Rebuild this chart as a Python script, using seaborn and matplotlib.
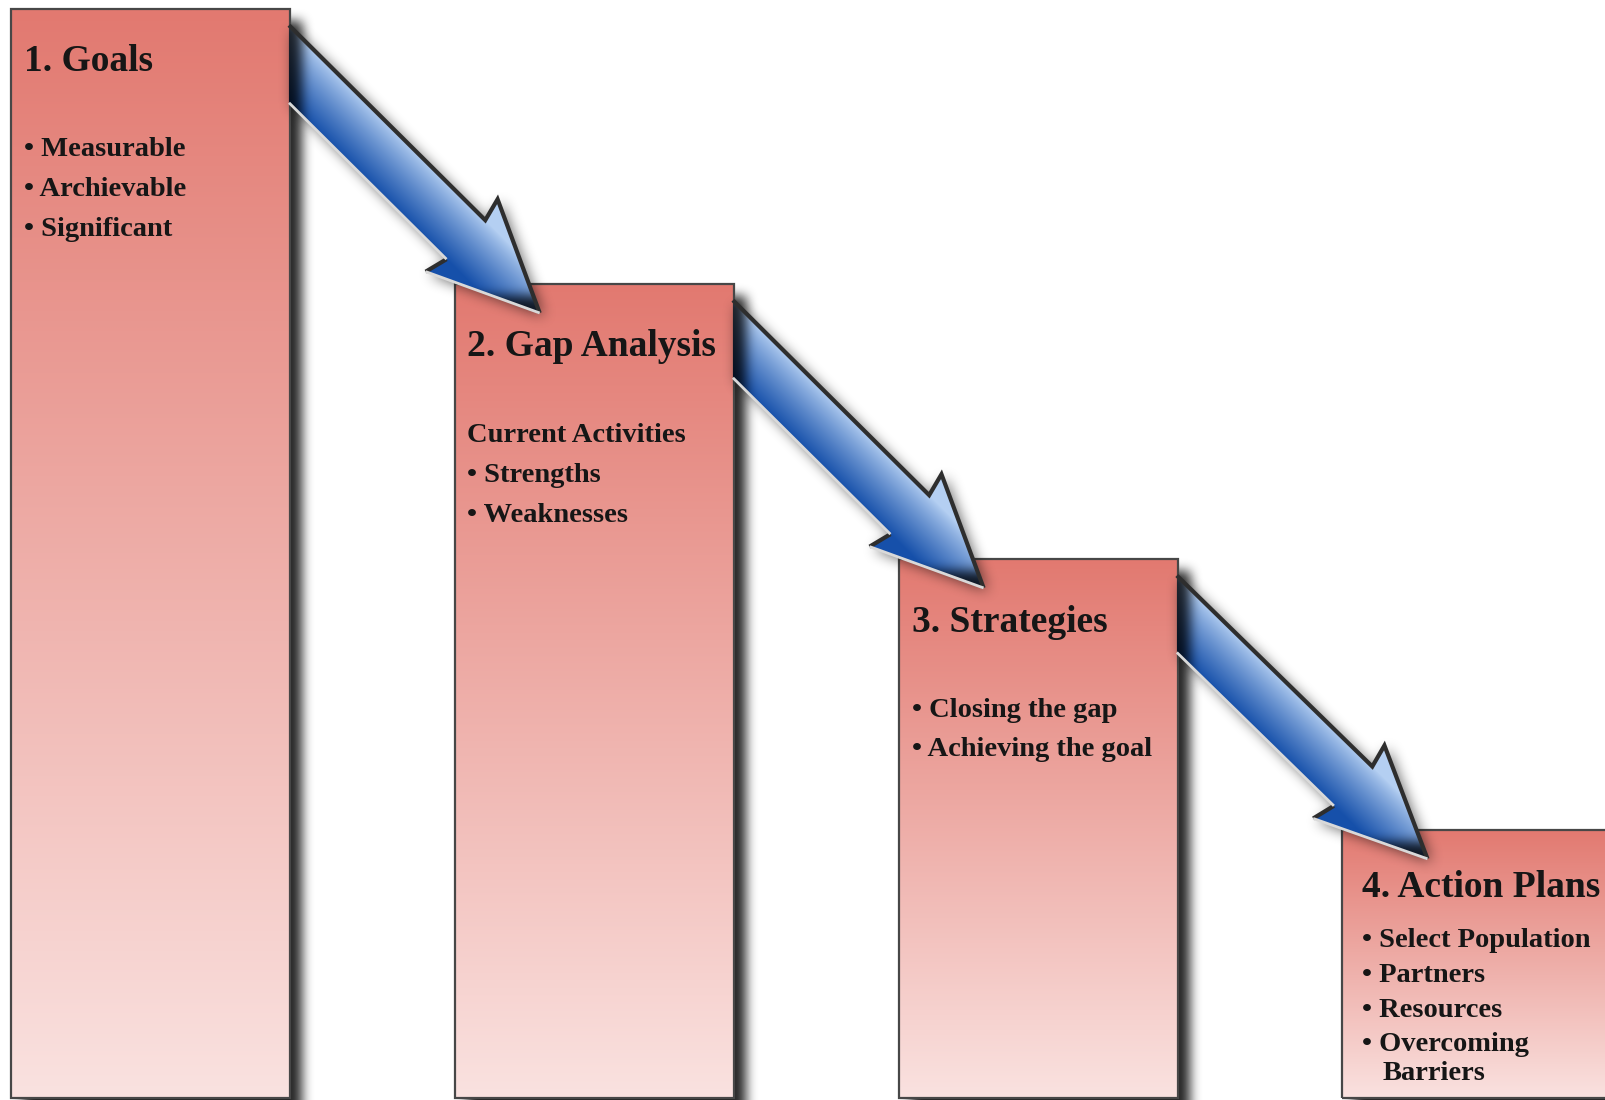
import numpy as np
import matplotlib
matplotlib.use("Agg")
import matplotlib.pyplot as plt
import seaborn as sns
from matplotlib.path import Path

# ---------------- data ----------------
steps = ["1. Goals", "2. Gap Analysis", "3. Strategies", "4. Action Plans"]
levels = [4.0, 2.99, 1.98, 0.985]
details_goals = ["• Measurable", "• Archievable", "• Significant"]
details_gap = ["Current Activities", "• Strengths", "• Weaknesses"]
details_strategies = ["• Closing the gap", "• Achieving the goal"]
details_action = ["• Select Population", "• Partners", "• Resources", "• Overcoming", "Barriers"]
details = [details_goals, details_gap, details_strategies, details_action]

# ---------------- layout ----------------
W, H, DPI = 1606, 1100, 100
X0, XU = 150.4, 443.9
Y0, YU = 2.0, 272.25
BAR_W = 0.629
TEXT_DX = [13.5, 12.5, 13.0, 20.0]
TITLE_DY = [62, 72, 73, 67]
DETAIL_DY = [[147, 187, 227], [158, 198, 238], [158, 197], [117, 152, 187, 221, 250]]
DETAIL_INDENT = [[0, 0, 0], [0, 0, 0], [0, 0], [0, 0, 0, 0, 20]]
TITLE_FS, DETAIL_FS = 27, 20.5
TEXT_COLOR = "#161616"


def blur(a, r, passes=3):
    for _ in range(passes):
        c = np.cumsum(np.pad(a, ((0, 0), (r + 1, r)), mode="edge"), axis=1)
        a = (c[:, 2 * r + 1:] - c[:, :-2 * r - 1]) / (2 * r + 1)
        c = np.cumsum(np.pad(a, ((r + 1, r), (0, 0)), mode="edge"), axis=0)
        a = (c[2 * r + 1:, :] - c[:-2 * r - 1, :]) / (2 * r + 1)
    return a


sns.set_style("white")
plt.rcParams["font.family"] = ["Liberation Serif", "DejaVu Serif"]

fig = plt.figure(figsize=(W / DPI, H / DPI), dpi=DPI)
fig.patch.set_facecolor("white")
ax = fig.add_axes([0, 0, 1, 1])
sns.barplot(x=steps, y=levels, order=steps, ax=ax, width=BAR_W,
            color="#e9a29b", saturation=1, edgecolor="#474747", linewidth=1.6)
xlim = (-X0 / XU, (W - X0) / XU)
ylim = (-Y0 / YU, (H - Y0) / YU)
ax.set_xlim(*xlim)
ax.set_ylim(*ylim)
ax.axis("off")

bars = sorted(ax.patches, key=lambda p: p.get_x())

# gradient fill of the bars
top_c = np.array([226, 121, 112]) / 255.0
bot_c = np.array([250, 226, 224]) / 255.0
g = np.linspace(0, 1, 256)[:, None, None]
grad = top_c[None, None, :] * (1 - g) + bot_c[None, None, :] * g
for p in bars:
    p.set_facecolor("none")
    p.set_zorder(3)
    ax.imshow(grad, extent=(p.get_x(), p.get_x() + p.get_width(),
                            p.get_y(), p.get_y() + p.get_height()),
              origin="upper", aspect="auto", zorder=2, interpolation="bilinear")

ax.set_xlim(*xlim)
ax.set_ylim(*ylim)

# bar geometry in pixel coords (y down)
boxes = []
for p in bars:
    xa, ya = ax.transData.transform((p.get_x(), p.get_y() + p.get_height()))
    xb, yb = ax.transData.transform((p.get_x() + p.get_width(), p.get_y()))
    boxes.append((xa, H - ya, xb, H - yb))

# box drop shadow
box_mask = np.zeros((H, W))
for (l, t, r, b) in boxes:
    x1 = int(round(l + 12)); x2 = int(round(r + 12)); y1 = int(round(t + 12))
    box_mask[max(y1, 0):H, max(x1, 0):min(x2, W)] = 1.0
box_sh = np.clip(blur(box_mask, 5), 0, 1) * 0.85
sh_img = np.zeros((H, W, 4))
sh_img[..., 3] = box_sh
ax.imshow(sh_img, extent=(xlim[0], xlim[1], ylim[0], ylim[1]), origin="upper",
          aspect="auto", zorder=1, interpolation="nearest")
ax.set_xlim(*xlim)
ax.set_ylim(*ylim)

# overlay axes in pixel coordinates
ax2 = fig.add_axes([0, 0, 1, 1], zorder=5)
ax2.set_xlim(0, W)
ax2.set_ylim(H, 0)
ax2.axis("off")
ax2.patch.set_alpha(0)

yy, xx = np.mgrid[0:H, 0:W]
xx = xx + 0.5
yy = yy + 0.5

light = np.array([180, 207, 242]) / 255.0
dark = np.array([22, 80, 170]) / 255.0

arrow_mask = np.zeros((H, W), dtype=bool)
arrow_rgb = np.zeros((H, W, 3))
outlines = []
for i in range(len(boxes) - 1):
    l, t, r, b = boxes[i]
    l2, t2, r2, b2 = boxes[i + 1]
    S = np.array([r, t + 56.0])
    P = np.array([l2 + 85.0, t2 + 29.0])
    vec = P - S
    length = np.hypot(*vec)
    u = vec / length
    n = np.array([-u[1], u[0]])
    w, hw, hl, back = 27.5, 51.0, 104.0, 6.0

    def at_x(off):
        k = (r - 1 - S[0] - off * n[0]) / u[0]
        return S + k * u + off * n

    tail_up = at_x(-w)
    tail_lo = at_x(w)
    dn = length - hl
    notch_up = S + dn * u - w * n
    barb_up = S + (dn - back) * u - hw * n
    barb_lo = S + (dn - back) * u + hw * n
    notch_lo = S + dn * u + w * n
    verts = np.array([tail_up, notch_up, barb_up, P, barb_lo, notch_lo, tail_lo])

    xmin = int(max(verts[:, 0].min() - 2, 0)); xmax = int(min(verts[:, 0].max() + 2, W))
    ymin = int(max(verts[:, 1].min() - 2, 0)); ymax = int(min(verts[:, 1].max() + 2, H))
    sx = xx[ymin:ymax, xmin:xmax]; sy = yy[ymin:ymax, xmin:xmax]
    pts = np.column_stack([sx.ravel(), sy.ravel()])
    inside = Path(verts).contains_points(pts).reshape(sx.shape)
    s = (sx - S[0]) * n[0] + (sy - S[1]) * n[1]
    tt = np.clip((s + w) / (2 * w), 0, 1) ** 0.85
    col = light[None, None, :] * (1 - tt[..., None]) + dark[None, None, :] * tt[..., None]
    shade = 1 - box_sh[ymin:ymax, xmin:xmax] * 0.95
    col = col * shade[..., None]
    sub_m = arrow_mask[ymin:ymax, xmin:xmax]
    sub_c = arrow_rgb[ymin:ymax, xmin:xmax]
    sub_c[inside] = col[inside]
    sub_m[inside] = True
    outlines.append((tail_up, notch_up, barb_up, P, barb_lo, notch_lo, tail_lo))

# arrow shadow / halo
shift = np.zeros((H, W))
dxs, dys = 4, 3
shift[dys:, dxs:] = arrow_mask[:-dys, :-dxs]
a_sh = np.clip(blur(shift, 6), 0, 1) * 0.6
ash_img = np.zeros((H, W, 4))
ash_img[..., 3] = a_sh
ax2.imshow(ash_img, extent=(0, W, H, 0), origin="upper", aspect="auto",
           zorder=1, interpolation="nearest")

arr_img = np.zeros((H, W, 4))
arr_img[..., :3] = arrow_rgb
arr_img[..., 3] = arrow_mask.astype(float)
ax2.imshow(arr_img, extent=(0, W, H, 0), origin="upper", aspect="auto",
           zorder=2, interpolation="nearest")

for (tail_up, notch_up, barb_up, P, barb_lo, notch_lo, tail_lo) in outlines:
    seg = np.array([tail_up, notch_up, barb_up, P])
    ax2.plot(seg[:, 0], seg[:, 1], color="#2e2e2e", lw=3.0, zorder=3,
             solid_joinstyle="miter", solid_capstyle="butt")
    seg = np.array([notch_lo, barb_lo])
    ax2.plot(seg[:, 0], seg[:, 1], color="#2e2e2e", lw=3.0, zorder=3,
             solid_capstyle="butt")
    seg = np.array([tail_lo, notch_lo])
    ax2.plot(seg[:, 0], seg[:, 1], color="#d9d9d9", lw=2.0, zorder=3,
             solid_capstyle="butt")
    seg = np.array([barb_lo, P])
    ax2.plot(seg[:, 0], seg[:, 1], color="#d9d9d9", lw=2.0, zorder=3,
             solid_capstyle="butt")

ax2.set_xlim(0, W)
ax2.set_ylim(H, 0)

# texts
for i, (l, t, r, b) in enumerate(boxes):
    ax2.text(l + TEXT_DX[i], t + TITLE_DY[i], steps[i], fontsize=TITLE_FS,
             fontweight="bold", color=TEXT_COLOR, ha="left", va="baseline", zorder=6)
    for j, line in enumerate(details[i]):
        ax2.text(l + TEXT_DX[i] + DETAIL_INDENT[i][j], t + DETAIL_DY[i][j], line,
                 fontsize=DETAIL_FS, fontweight="bold", color=TEXT_COLOR,
                 ha="left", va="baseline", zorder=6)

fig.savefig("out.png", dpi=DPI, facecolor="white")
